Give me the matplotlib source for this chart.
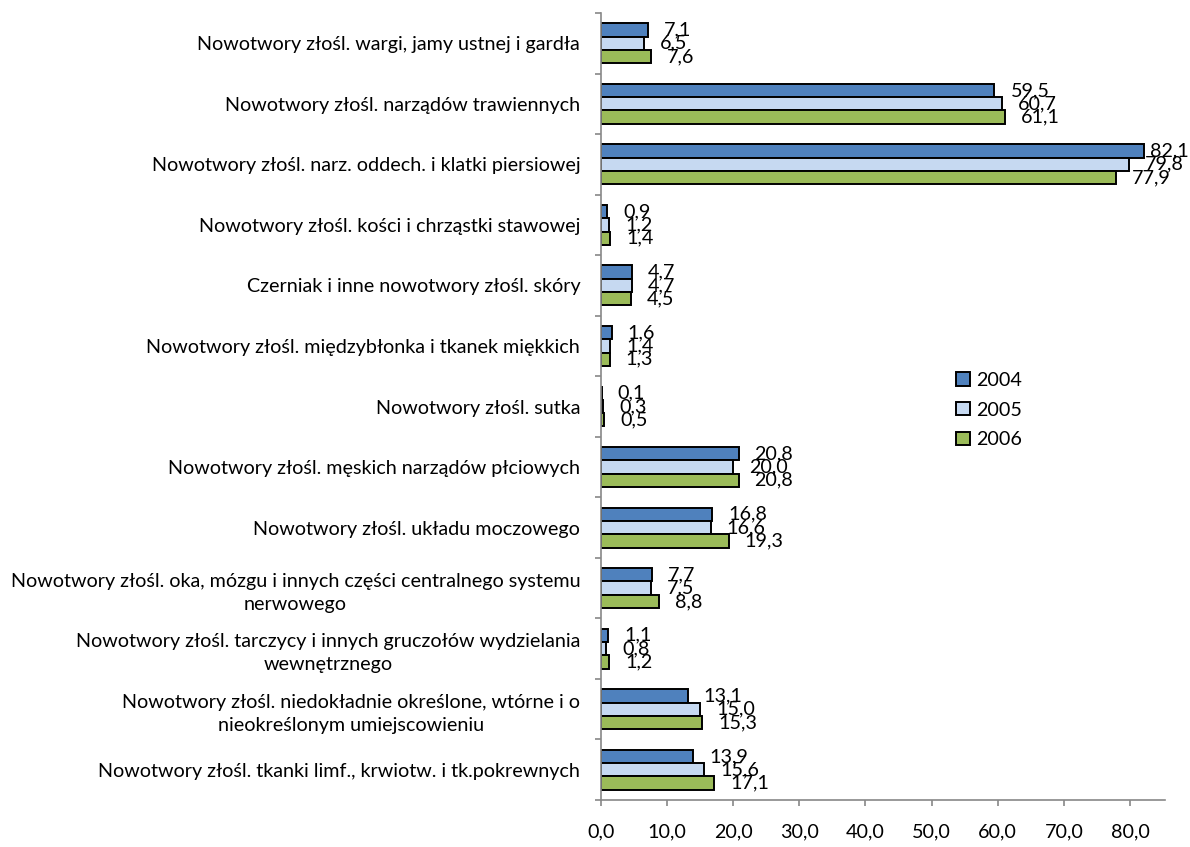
import matplotlib
matplotlib.use("Agg")
import matplotlib.pyplot as plt
import numpy as np
from matplotlib.ticker import FixedLocator

categories = [
    "Nowotwory złośl. wargi, jamy ustnej i gardła",
    "Nowotwory złośl. narządów trawiennych",
    "Nowotwory złośl. narz. oddech. i klatki piersiowej",
    "Nowotwory złośl. kości i chrząstki stawowej",
    "Czerniak i inne nowotwory złośl. skóry",
    "Nowotwory złośl. międzybłonka i tkanek miękkich",
    "Nowotwory złośl. sutka",
    "Nowotwory złośl. męskich narządów płciowych",
    "Nowotwory złośl. układu moczowego",
    "Nowotwory złośl. oka, mózgu i innych części centralnego systemu\nnerwowego",
    "Nowotwory złośl. tarczycy i innych gruczołów wydzielania\nwewnętrznego",
    "Nowotwory złośl. niedokładnie określone, wtórne i o\nnieokreślonym umiejscowieniu",
    "Nowotwory złośl. tkanki limf., krwiotw. i tk.pokrewnych",
]
years = ["2004", "2005", "2006"]
v2004 = [7.1, 59.5, 82.1, 0.9, 4.7, 1.6, 0.1, 20.8, 16.8, 7.7, 1.1, 13.1, 13.9]
v2005 = [6.5, 60.7, 79.8, 1.2, 4.7, 1.4, 0.3, 20.0, 16.6, 7.5, 0.8, 15.0, 15.6]
v2006 = [7.6, 61.1, 77.9, 1.4, 4.5, 1.3, 0.5, 20.8, 19.3, 8.8, 1.2, 15.3, 17.1]
xticks = [0, 10, 20, 30, 40, 50, 60, 70, 80]

colors = ["#4F81BD", "#C6D9F1", "#9BBB59"]
FONT = "Lato"
FS = 14.2
plt.rcParams["font.family"] = [FONT, "DejaVu Sans"]

fig = plt.figure(figsize=(11.9, 8.47), dpi=100)
ax = fig.add_axes([601/1190, 1 - 800/847, (1165 - 601)/1190, (800 - 13)/847])

y = np.arange(len(categories))
h = 0.22
series = [v2004, v2005, v2006]
bars_all = []
for k, (vals, c, lab) in enumerate(zip(series, colors, years)):
    b = ax.barh(y + (k - 1) * h, vals, height=h, color=c, edgecolor="black",
                linewidth=1.4, label=lab)
    bars_all.append((b, vals, k))

ax.set_xlim(0, 85.3)
ax.set_ylim(len(categories) - 0.5, -0.5)

ax.set_xticks(xticks)
ax.set_xticklabels([f"{t:.1f}".replace(".", ",") for t in xticks], fontsize=FS)
ax.tick_params(axis="x", direction="out", length=4.5, width=1.2, color="#888888", pad=12)

ax.set_yticks(y)
ax.set_yticklabels(categories, fontsize=FS, multialignment="center", linespacing=1.45)
ax.tick_params(axis="y", which="major", length=0, pad=15)
ax.yaxis.set_minor_locator(FixedLocator(np.arange(-0.5, len(categories) + 0.5, 1)))
ax.tick_params(axis="y", which="minor", direction="out", length=4.5, width=1.2, color="#888888")

for s in ["top", "right"]:
    ax.spines[s].set_visible(False)
for s in ["left", "bottom"]:
    ax.spines[s].set_color("#888888")
    ax.spines[s].set_linewidth(1.2)

texts = []
for b, vals, k in bars_all:
    for i, v in enumerate(vals):
        t = ax.annotate(f"{v:.1f}".replace(".", ","), xy=(v, y[i] + (k - 1) * h),
                        xytext=(11.5, 0), textcoords="offset points",
                        ha="left", va="center", fontsize=FS, annotation_clip=False)
        texts.append(t)

fig.canvas.draw()
renderer = fig.canvas.get_renderer()
for t in texts:
    bb = t.get_window_extent(renderer)
    if bb.x1 > 1189:
        dx = (bb.x1 - 1189) * 72 / 100
        ox, oy = t.xyann
        t.xyann = (ox - dx, oy)

leg = fig.legend(loc="center left", bbox_to_anchor=(938/1190, 1 - 410/847),
                 frameon=False, fontsize=FS, handlelength=0.7, handleheight=0.7,
                 handletextpad=0.35, labelspacing=0.65)

fig.savefig("out.png", dpi=100)
